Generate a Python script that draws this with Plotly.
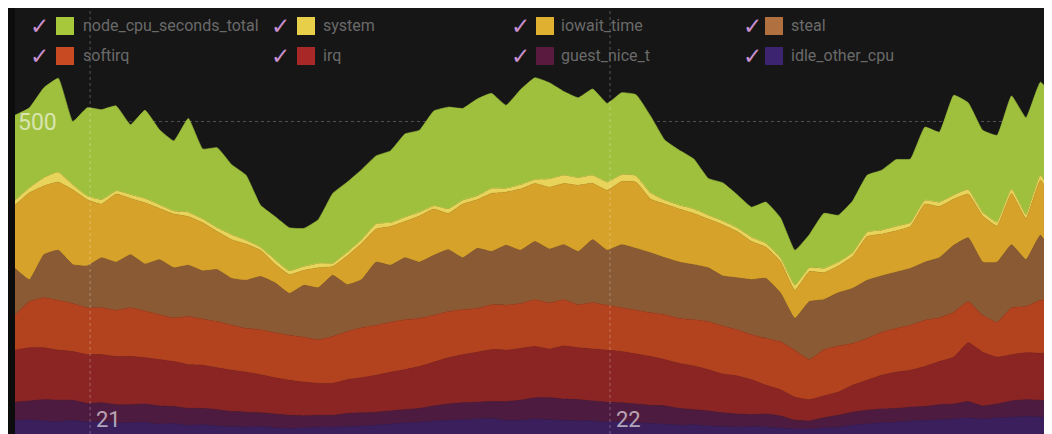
import plotly.graph_objects as go
import pandas as pd

# ---------------- data ----------------
times = pd.date_range("2024-05-20 20:32", periods=73, freq="40min")
x_ticks = ["2024-05-21", "2024-05-22"]
x_ticktext = ["21", "22"]
y_ticks = [500]

# stacked series, bottom -> top
indigo = [22,23,21,20,22,19,20,18,18,19, 16,17,14,15,13,12,11,12,10,9,
          10,11,11,12,13,14,16,18,19,21, 22,23,24,25,22,22,24,23,22,21,
          21,19,20,18,17,16,14,15,13,12, 11,12,11,10,8,8,10,11,14,16,
          18,19,21,22,23,24,26,24,26,27, 28,27,27]
plum = [29,30,34,34,32,30,30,29,29,29, 29,27,27,26,26,24,24,22,22,21,
        19,19,19,21,21,21,21,21,22,24, 26,27,27,27,30,32,34,35,34,34,
        32,32,30,30,29,29,27,24,24,22, 21,19,21,19,14,13,16,19,21,22,
        22,22,22,22,24,24,26,21,22,26, 27,27,26]
red = [83,85,83,80,78,78,77,77,77,74, 74,72,70,69,67,66,64,61,58,56,
       54,51,51,54,56,59,62,64,67,70, 74,77,80,83,82,83,82,78,85,83,
       83,83,82,80,78,74,72,70,66,62, 61,56,46,42,37,34,35,37,43,48,
       54,58,59,64,69,75,94,86,75,74, 75,75,77]
orange = [56,74,80,80,77,75,75,74,78,75, 72,70,77,74,74,72,70,72,72,72,
          72,70,75,77,80,80,80,80,77,75, 74,72,70,72,72,72,75,74,74,69,
          74,72,70,70,70,72,72,74,77,77, 74,72,75,77,75,64,74,74,67,67,
          69,70,72,74,70,72,66,59,56,75, 74,85,85]
brown = [75,35,69,80,62,67,80,77,85,75, 88,80,82,77,83,75,77,85,80,67,
         83,83,98,75,77,101,91,99,90,96, 99,83,96,85,96,85,93,86,88,85,
         101,88,101,99,96,91,90,88,86,80, 83,88,96,78,51,93,80,85,88,93,
         90,90,91,93,96,107,102,85,96,101, 75,104,64]
gold = [101,139,110,109,120,106,86,109,90,98, 82,86,78,77,61,62,58,42,30,30,
        24,32,14,46,58,53,62,58,74,74, 58,86,78,93,85,98,93,99,98,106,
        90,96,101,106,86,86,85,82,78,82, 74,61,50,50,45,48,43,43,51,70,
        67,66,67,93,82,74,70,74,58,82, 66,88,90]
yellow = [8,8,13,16,8,6,7,5,6,7, 6,5,7,6,6,8,6,5,7,6,
          6,7,5,6,6,8,6,7,6,5, 7,6,6,8,6,7,6,13,13,12,
          13,13,11,10,10,6,6,7,6,6, 6,7,6,6,8,6,7,6,6,7,
          6,7,6,6,7,6,7,6,6,7, 6,8,6]
green = [136,128,144,150,101,141,144,136,112,141, 120,112,150,112,128,112,104,67,69,69,
         61,70,112,112,112,109,115,133,131,152, 163,147,155,152,133,152,163,154,134,128,
         138,126,131,130,123,96,88,80,59,61, 53,48,66,64,56,53,88,75,83,91,
         96,107,102,117,112,160,139,131,139,149, 155,149,160]

series_names = ["indigo_q", "plum_q", "red_q", "orange_q",
                "brown_q", "gold_q", "yellow_q", "green_q"]
series_values = [indigo, plum, red, orange, brown, gold, yellow, green]
series_colors = ["#3b1f5c", "#4e1b40", "#8a2523", "#b3421f",
                 "#8a5a34", "#d6a22a", "#e8d45a", "#9fc03c"]

# legend (row-major, 4 columns x 2 rows)
legend_labels = ["node_cpu_seconds_total", "system", "iowait_time", "steal",
                 "softirq", "irq", "guest_nice_t", "idle_other_cpu"]
legend_colors = ["#a6c83a", "#e8cf4a", "#e0b030", "#b07040",
                 "#c84a22", "#a82828", "#5a1a40", "#3c2470"]

# ---------------- figure ----------------
# the page body adds an 8px offset; the figure is sized to fill the rest
OFF = 8
W, H = 1052 - OFF, 434 - OFF
PL, PR = 15, 1048          # plot left/right in page pixels
ML, MR, MT, MB = PL - OFF, 1052 - PR, 0, 0
PW = PR - PL

fig = go.Figure()
for name, vals, col in zip(series_names, series_values, series_colors):
    fig.add_trace(go.Scatter(
        x=times, y=vals, name=name, stackgroup="one", mode="lines",
        line=dict(width=0.6, color=col, shape="spline", smoothing=0.35),
        fillcolor=col, hoverinfo="skip", showlegend=False))

def px_x(p):   # page pixel -> paper x
    return (p - PL) / PW

def px_y(p):   # page pixel -> paper y
    return 1 - (p - OFF) / H

shapes = []
annotations = []
# vertical dotted grid lines above the areas, with their labels
for t, lab in zip(x_ticks, x_ticktext):
    shapes.append(dict(type="line", xref="x", yref="paper", x0=t, x1=t, y0=0, y1=1,
                       line=dict(color="rgba(255,255,255,0.28)", width=1, dash="dot"),
                       layer="above"))
    annotations.append(dict(xref="x", yref="paper", x=t, y=px_y(419), xshift=4,
                            text=lab, showarrow=False, xanchor="left", yanchor="middle",
                            font=dict(family="Roboto", size=22,
                                      color="rgba(255,255,255,0.62)")))

check_px = [28, 269, 509, 741]
swatch_px = [56, 297, 536, 765]
text_px = [81, 321, 559, 789]
row_py = [26, 56]
sw = 18
for k, (lab, col) in enumerate(zip(legend_labels, legend_colors)):
    r, c = divmod(k, 4)
    cy = row_py[r]
    annotations.append(dict(xref="paper", yref="paper", x=px_x(check_px[c]), y=px_y(cy),
                            text="✓", showarrow=False, xanchor="left", yanchor="middle",
                            font=dict(family="DejaVu Sans", size=23, color="#c98fcf")))
    shapes.append(dict(type="rect", xref="paper", yref="paper",
                       x0=px_x(swatch_px[c]), x1=px_x(swatch_px[c] + sw),
                       y0=px_y(cy + sw / 2), y1=px_y(cy - sw / 2),
                       fillcolor=col, line=dict(width=0), layer="above"))
    annotations.append(dict(xref="paper", yref="paper", x=px_x(text_px[c]), y=px_y(cy),
                            text=lab, showarrow=False, xanchor="left", yanchor="middle",
                            font=dict(family="Roboto", size=16, color="#6a6a6a")))

# value 0 at page y 434, 500 at page y ~121 (0.625 px per unit)
y_top = H / 0.625

fig.update_layout(
    width=W, height=H,
    margin=dict(l=ML, r=MR, t=MT, b=MB, pad=0),
    paper_bgcolor="#0c0c0c",
    plot_bgcolor="#161616",
    shapes=shapes,
    annotations=annotations,
    showlegend=False,
    xaxis=dict(
        range=["2024-05-20 20:32", "2024-05-22 20:13"],
        tickvals=x_ticks, showticklabels=False,
        showgrid=False, zeroline=False, showline=False, ticks="",
    ),
    yaxis=dict(
        range=[0, y_top],
        tickvals=y_ticks,
        ticklabelposition="inside",
        tickfont=dict(family="Roboto", size=23, color="rgba(255,255,255,0.6)"),
        showgrid=True, gridcolor="rgba(255,255,255,0.25)", griddash="dot", gridwidth=1,
        zeroline=False, showline=False, ticks="",
    ),
)

fig.write_html("out.html")
